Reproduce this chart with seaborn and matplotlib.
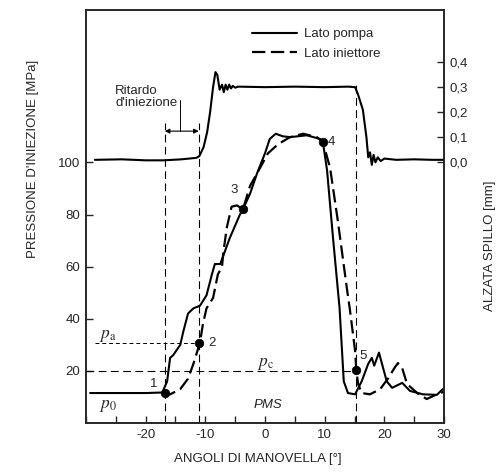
import numpy as np
import pandas as pd
import matplotlib
matplotlib.use("Agg")
import matplotlib.pyplot as plt
import seaborn as sns

# pressure, pump side (solid) [deg, MPa]
pump_deg = [-29.3, -24, -20, -17.2, -16.4, -15.9, -15.4, -14.2, -13.7, -12.9, -12.0,
            -10.9, -9.8, -8.9, -8.4, -7.5, -5.9, -4.2, -3.7, -2.5, -1.3, 0.0, 0.8,
            1.8, 3.0, 4.2, 7.0, 9.2, 9.7, 10.4, 11.4, 12.5, 13.2, 13.9, 15.1, 16.2,
            17.3, 17.9, 18.3, 19.1, 20.4, 21.3, 23.0, 24.3, 26.5, 28.8, 29.8]
pump_p = [11.5, 11.5, 11.5, 11.7, 16, 25, 26, 30, 35, 42, 44,
          45, 49, 57, 61, 61, 71, 80, 82, 88, 96, 103.5, 109,
          111, 110, 109.7, 110.4, 109, 107.8, 97, 71, 44, 16, 11.5, 11, 16,
          22.7, 25, 22, 27, 16, 13.5, 15.4, 12.3, 11, 10.8, 13]

# pressure, injector side (dashed)
inj_deg = [-17.2, -15.9, -14.2, -12.9, -12.0, -10.9, -10.4, -9.8, -8.7, -7.9, -7.2,
           -7.0, -6.4, -5.6, -4.7, -3.7, -2.5, -0.8, 0.5, 2.2, 4.2, 6.4, 8.7, 9.7,
           10.9, 12.2, 13.7, 14.2, 15.1, 15.3, 15.6, 16.2, 17.6, 19.3, 20.6, 21.8,
           22.3, 23.0, 23.8, 25.5, 27.1, 28.8, 30.0]
inj_p = [11, 11, 13, 17, 22.7, 30.8, 38, 44, 48, 57, 60,
         65, 75, 83, 83.5, 82, 91, 98, 103.5, 107, 109.7, 111, 109.7, 107.8,
         98, 77.7, 52, 44, 27.7, 20.4, 15, 11.5, 11, 13, 17, 21.5,
         23, 21, 15, 11.5, 9.2, 11, 12]

# needle lift [deg, mm]
lift_deg = [-28.5, -24, -20, -17, -14, -11.5, -11, -10.3, -9.7, -9.2, -8.7, -8.3,
            -8.0, -7.6, -7.2, -6.9, -6.6, -6.3, -6.0, -5.7, -5.4, -5.0, -4.5, 0,
            5, 10, 14, 15.1, 15.6, 16.4, 17.0, 17.3, 17.6, 17.9, 18.2, 18.5, 18.9,
            19.4, 20, 22, 25, 28, 30]
lift_mm = [0.01, 0.012, 0.008, 0.008, 0.012, 0.018, 0.025, 0.06, 0.12, 0.2, 0.3, 0.36,
           0.35, 0.29, 0.31, 0.28, 0.31, 0.29, 0.31, 0.295, 0.305, 0.298, 0.302, 0.3,
           0.302, 0.3, 0.302, 0.3, 0.27, 0.21, 0.1, 0.02, 0.04, -0.01, 0.03, 0.0, 0.02,
           0.005, 0.015, 0.01, 0.012, 0.01, 0.01]

# numbered points
pt_deg = [-16.8, -11.1, -3.7, 9.7, 15.2]
pt_p = [11.5, 30.8, 82, 107.8, 20.4]
pt_lbl = ["1", "2", "3", "4", "5"]

FS = 9.5

sns.set_style("ticks")
plt.rcParams["font.family"] = ["Liberation Sans", "DejaVu Sans"]
plt.rcParams["mathtext.fontset"] = "stix"

fig = plt.figure(figsize=(4.99, 4.74), dpi=100)
ax = fig.add_axes([0.1723, 0.1076, 0.7175, 0.8714])
ax2 = ax.twinx()

pump = pd.DataFrame({"deg": pump_deg, "p": pump_p})
inj = pd.DataFrame({"deg": inj_deg, "p": inj_p})
lift = pd.DataFrame({"deg": lift_deg, "mm": lift_mm})

sns.lineplot(data=pump, x="deg", y="p", ax=ax, color="black", lw=1.5,
             sort=False, label="Lato pompa")
sns.lineplot(data=inj, x="deg", y="p", ax=ax, color="black", lw=1.6,
             sort=False, dashes=False, label="Lato iniettore")
ax.lines[-1].set_dashes((6, 2.5))
sns.lineplot(data=lift, x="deg", y="mm", ax=ax2, color="black", lw=1.5, sort=False)

# guide lines
dash = dict(color="black", lw=0.8, dashes=(7, 4))
ax.plot([pt_deg[0]] * 2, [0, 115], **dash)
ax.plot([pt_deg[1]] * 2, [0, 115], **dash)
ax.plot([pt_deg[4]] * 2, [0, 130.8], **dash)
ax.plot([-30, pt_deg[4]], [20, 20], **dash)
ax.plot([-28.5, pt_deg[1]], [pt_p[1]] * 2, color="black", lw=0.7, dashes=(4, 3))

sns.scatterplot(x=pt_deg, y=pt_p, ax=ax, color="black", s=38, zorder=5, edgecolor="black")
offs = [(-1.8, 3.5), (2.3, 0), (-1.5, 7.5), (1.5, 0), (1.3, 5.5)]
for d, p, t, (dx, dy) in zip(pt_deg, pt_p, pt_lbl, offs):
    ax.text(d + dx, p + dy, t, fontsize=FS, ha="center", va="center")

# injection delay
ax.annotate("", xy=(pt_deg[0], 112), xytext=(pt_deg[1], 112),
            arrowprops=dict(arrowstyle="<|-|>", color="black", lw=0.8,
                            mutation_scale=7, shrinkA=0, shrinkB=0))
ax.plot([-14.2, -14.2], [112, 124], color="black", lw=0.7)
ax.text(-25.1, 120.5, "Ritardo\nd'iniezione", fontsize=FS, ha="left", va="bottom",
        linespacing=1.05)

ax.text(-26.3, 33.5, r"$p_\mathrm{a}$", fontsize=12.5, ha="center", va="center")
ax.text(-26.3, 6.5, r"$p_\mathrm{0}$", fontsize=12.5, ha="center", va="center")
ax.text(0.0, 22.5, r"$p_\mathrm{c}$", fontsize=12.5, ha="center", va="center")
ax.text(0.5, 6.8, "PMS", fontsize=FS, style="italic", ha="center", va="center")

ax.set_xlim(-30, 30)
ax.set_ylim(0, 158.5)
ax2.set_ylim(-1.04, 0.608)
ax.set_xticks(np.arange(-30, 31, 5))
ax.set_xticklabels(["" if v % 10 or v == -30 else str(v) for v in range(-30, 31, 5)])
ax.set_yticks([20, 40, 60, 80, 100])
ax2.set_yticks([0, 0.1, 0.2, 0.3, 0.4])
ax2.set_yticklabels(["0,0", "0,1", "0,2", "0,3", "0,4"])
for a in (ax, ax2):
    a.tick_params(direction="in", length=5, width=1, labelsize=FS, pad=4)
    for s in a.spines.values():
        s.set_visible(True)
        s.set_linewidth(1.2)

ax.set_xlabel("ANGOLI DI MANOVELLA [°]", fontsize=FS)
ax.set_ylabel("PRESSIONE D'INIEZIONE [MPa]", fontsize=FS)
ax2.set_ylabel("ALZATA SPILLO [mm]", fontsize=FS)
ax.xaxis.set_label_coords(0.48, -0.073)
ax.yaxis.set_label_coords(-0.131, 0.64)
ax2.yaxis.set_label_coords(1.113, 0.43)

leg = ax.legend(loc="upper left", bbox_to_anchor=(0.43, 0.985), frameon=False,
                fontsize=FS, handlelength=3.4, handletextpad=0.55, labelspacing=0.55)
leg.set_zorder(10)

fig.savefig("out.png", dpi=100)
